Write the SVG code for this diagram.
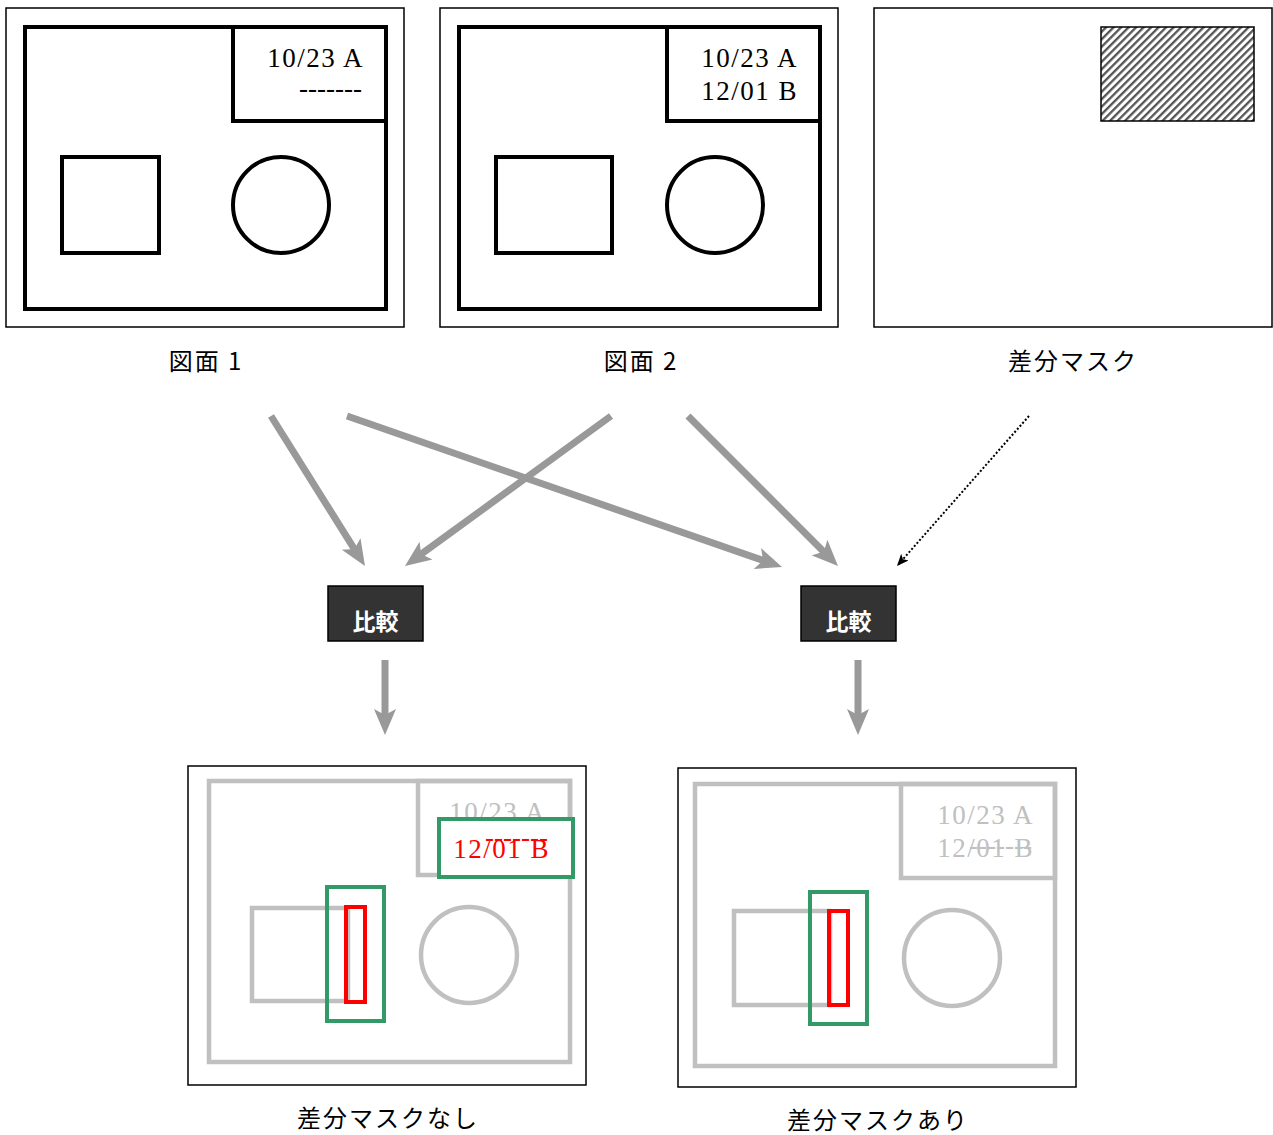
<svg xmlns="http://www.w3.org/2000/svg" width="1273" height="1135" viewBox="0 0 1273 1135">
<style>
.frame{fill:#fff;stroke:#000;stroke-width:1.5}
.thick{fill:none;stroke:#000;stroke-width:4}
.gray{fill:none;stroke:#c0c0c0;stroke-width:4.5}
.green{fill:none;stroke:#339966;stroke-width:4}
.red{fill:none;stroke:#ff0000;stroke-width:4}
.date{font-family:"Liberation Serif","Times New Roman",serif;font-size:27px;text-anchor:end;letter-spacing:1.5px}
.dash{font-family:"Liberation Serif","Times New Roman",serif;font-size:27px;text-anchor:end}
.lbl{font-family:"Noto Sans CJK JP","Noto Sans",sans-serif;font-size:24px;letter-spacing:2px;text-anchor:middle;fill:#000}
.cmp{fill:#333;stroke:#000;stroke-width:1.5}
.cmpt{font-family:"Noto Sans CJK JP","Noto Sans",sans-serif;font-size:23px;font-weight:bold;fill:#fff;text-anchor:middle}
.arr{fill:none;stroke:#999;stroke-width:7;marker-end:url(#ah)}
</style>
<defs>
<marker id="ah" markerUnits="userSpaceOnUse" markerWidth="26" markerHeight="24" viewBox="0 0 26 24" refX="14" refY="12" orient="auto">
<path d="M0,1 L26,12 L0,23 L6,12 z" fill="#999"/>
</marker>
<marker id="ahs" markerUnits="userSpaceOnUse" markerWidth="12" markerHeight="10" viewBox="0 0 12 10" refX="12" refY="5" orient="auto">
<path d="M0,0 L12,5 L0,10 L3,5 z" fill="#000"/>
</marker>
<pattern id="hatch" patternUnits="userSpaceOnUse" width="5.3" height="5.3" patternTransform="rotate(45)">
<rect x="0" y="0" width="2.3" height="5.3" fill="#555"/>
</pattern>
</defs>
<rect width="1273" height="1135" fill="#fff"/>

<g id="drawing1">
<rect class="frame" x="6" y="8" width="398" height="319"/>
<rect class="thick" x="25" y="27" width="361" height="282"/>
<rect class="thick" x="233" y="27" width="153" height="94"/>
<text class="date" x="364" y="67" fill="#000">10/23 A</text>
<text class="dash" x="362" y="97" fill="#000">-------</text>
<rect class="thick" x="62" y="157" width="97" height="96"/>
<circle class="thick" cx="281" cy="205" r="48"/>
<text class="lbl" x="206" y="370">図面 1</text>
</g>

<g id="drawing2">
<rect class="frame" x="440" y="8" width="398" height="319"/>
<rect class="thick" x="459" y="27" width="361" height="282"/>
<rect class="thick" x="667" y="27" width="153" height="94"/>
<text class="date" x="798" y="67" fill="#000">10/23 A</text>
<text class="date" x="798" y="100" fill="#000">12/01 B</text>
<rect class="thick" x="496" y="157" width="116" height="96"/>
<circle class="thick" cx="715" cy="205" r="48"/>
<text class="lbl" x="641" y="370">図面 2</text>
</g>

<g id="mask">
<rect class="frame" x="874" y="8" width="398" height="319"/>
<rect x="1101" y="27" width="153" height="94" fill="url(#hatch)" stroke="#000" stroke-width="1.5"/>
<text class="lbl" x="1073" y="370">差分マスク</text>
</g>

<g id="compare1">
<rect class="cmp" x="328" y="586" width="95" height="55"/>
<text class="cmpt" x="375.5" y="630">比較</text>
</g>
<g id="compare2">
<rect class="cmp" x="801" y="586" width="95" height="55"/>
<text class="cmpt" x="848.5" y="630">比較</text>
</g>

<g id="connectors">
<line class="arr" x1="271" y1="416" x2="358.6" y2="555.9"/>
<line class="arr" x1="347" y1="416" x2="770.7" y2="563.1"/>
<line class="arr" x1="611" y1="416" x2="414.7" y2="558.9"/>
<line class="arr" x1="688" y1="416" x2="829.5" y2="557.5"/>
<line class="arr" x1="385" y1="660" x2="385" y2="723"/>
<line class="arr" x1="858" y1="660" x2="858" y2="723"/>
<line x1="1029" y1="416" x2="897" y2="566" stroke="#000" stroke-width="2" stroke-dasharray="2,2" marker-end="url(#ahs)"/>
</g>

<g id="result1">
<rect class="frame" x="188" y="766" width="398" height="319"/>
<rect class="gray" x="209" y="781" width="361" height="281"/>
<rect class="gray" x="418" y="781" width="152" height="94"/>
<text class="date" x="546" y="821" fill="#c0c0c0">10/23 A</text>
<rect x="439" y="819" width="134" height="58" fill="#fff" stroke="#339966" stroke-width="4"/>
<text class="date" x="550" y="858" fill="#ff0000">12/01 B</text>
<text class="dash" x="548" y="846" fill="#ff0000">-------</text>
<rect class="gray" x="252" y="908" width="96" height="93"/>
<circle class="gray" cx="469" cy="955" r="48"/>
<rect class="green" x="327" y="887" width="57" height="134"/>
<rect class="red" x="346" y="907" width="19" height="95"/>
<text class="lbl" x="388" y="1127">差分マスクなし</text>
</g>

<g id="result2">
<rect class="frame" x="678" y="768" width="398" height="319"/>
<rect class="gray" x="695" y="784" width="360" height="282"/>
<rect class="gray" x="901" y="784" width="154" height="94"/>
<text class="date" x="1034" y="824" fill="#c0c0c0">10/23 A</text>
<text class="date" x="1034" y="857" fill="#c0c0c0">12/01 B</text>
<text class="dash" x="1032" y="854" fill="#c0c0c0">-------</text>
<rect class="gray" x="734" y="911" width="96" height="94"/>
<circle class="gray" cx="952" cy="958" r="48"/>
<rect class="green" x="810" y="892" width="57" height="132"/>
<rect class="red" x="829" y="911" width="19" height="94"/>
<text class="lbl" x="878" y="1129">差分マスクあり</text>
</g>
</svg>
